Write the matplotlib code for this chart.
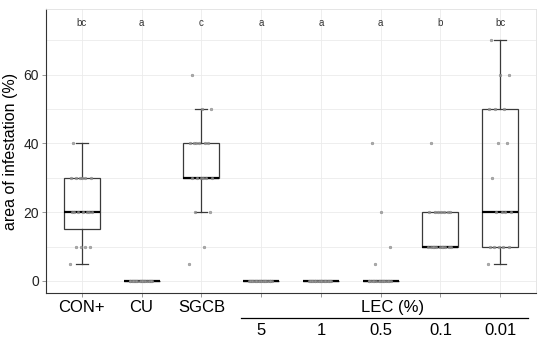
import numpy as np
import matplotlib
matplotlib.use("Agg")
import matplotlib.pyplot as plt

plt.rcParams['font.family'] = ['Liberation Sans', 'DejaVu Sans']

categories = ["CON+", "CU", "SGCB", "5", "1", "0.5", "0.1", "0.01"]
top_labels = ["CON+", "CU", "SGCB", "", "", "", "", ""]
lec_labels = ["5", "1", "0.5", "0.1", "0.01"]
letters = ["bc", "a", "c", "a", "a", "a", "b", "bc"]

con_plus = [5] + [10]*4 + [20]*7 + [30]*6 + [40]
cu = [0]*19
sgcb = [5, 10, 20, 20] + [30]*6 + [40]*6 + [50, 50, 60]
lec_5 = [0]*19
lec_1 = [0]*19
lec_05 = [0]*15 + [5, 10, 20, 40]
lec_01 = [10]*11 + [20]*7 + [40]
lec_001 = [5] + [10]*5 + [20]*4 + [30] + [40]*2 + [50]*3 + [60]*2 + [70]
groups = [con_plus, cu, sgcb, lec_5, lec_1, lec_05, lec_01, lec_001]

fig = plt.figure(figsize=(5.5, 3.45), dpi=100)
ax = fig.add_axes([46/550, 52/345, 490/550, 284/345])

pos = np.arange(1, len(categories) + 1)
ax.set_xlim(0.4, 8.6)
ax.set_ylim(-3.5, 79.1)

# grid
for y in range(0, 80, 10):
    ax.axhline(y, color="#ebebeb", lw=0.6, zorder=0)
for x in pos:
    ax.axvline(x, color="#ebebeb", lw=0.6, zorder=0)

boxc = "#3a3a3a"
ax.boxplot(groups, positions=pos, widths=0.6, whis=1.5, patch_artist=True,
           showfliers=False,
           boxprops=dict(facecolor="none", edgecolor=boxc, lw=0.9),
           whiskerprops=dict(color=boxc, lw=0.9),
           capprops=dict(color=boxc, lw=0.9),
           medianprops=dict(color="black", lw=1.6),
           capwidths=0.2, zorder=2)

# jittered points (deterministic offsets)
for i, g in enumerate(groups):
    g = np.asarray(g, dtype=float)
    n = len(g)
    offs = (((np.arange(n) * 0.618) % 1.0) - 0.5) * 0.4
    ax.scatter(pos[i] + offs, g, s=4, facecolor="#9a9a9a", edgecolor="#707070",
               linewidths=0.3, alpha=0.8, zorder=3)

for x, t in zip(pos, letters):
    ax.text(x, 75, t, ha="center", va="center", fontsize=7, color="#333333")

ax.set_xticks(pos)
ax.set_xticklabels(top_labels, fontsize=12, color="black")
ax.set_yticks([0, 20, 40, 60])
ax.set_yticklabels(["0", "20", "40", "60"], fontsize=10, color="#222222")
ax.tick_params(axis="both", length=3, width=0.6, color="#888888", pad=2)
ax.set_ylabel("area of infestation (%)", fontsize=11.5, labelpad=4)

for s in ["top", "right"]:
    ax.spines[s].set_color("#e0e0e0")
    ax.spines[s].set_linewidth(0.6)
for s in ["left", "bottom"]:
    ax.spines[s].set_color("#333333")
    ax.spines[s].set_linewidth(0.8)

# LEC group annotation under the axis
trans = ax.get_xaxis_transform()
ax.text(6.2, -0.024, "LEC (%)", transform=trans, ha="center", va="top",
        fontsize=12, clip_on=False)
ax.plot([3.67, 8.47], [-0.087, -0.087], transform=trans, color="black",
        lw=0.9, clip_on=False)
for x, t in zip(pos[3:], lec_labels):
    ax.text(x, -0.107, t, transform=trans, ha="center", va="top",
            fontsize=12, clip_on=False)

fig.savefig("out.png", dpi=100)
